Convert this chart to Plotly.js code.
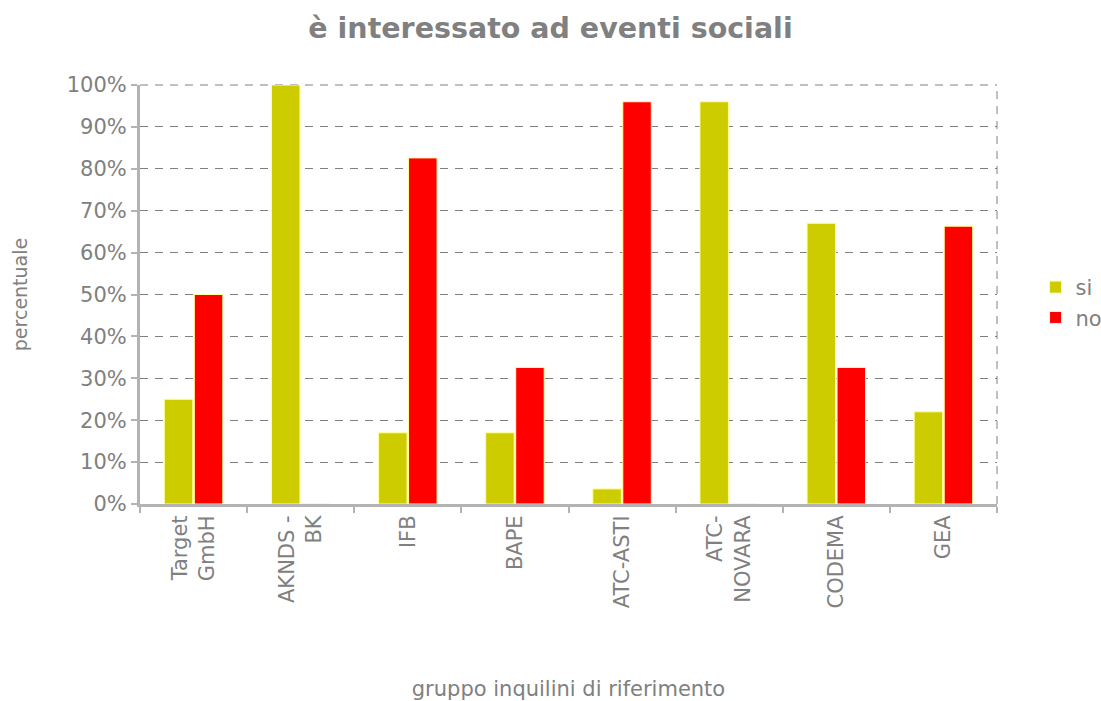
<!DOCTYPE html>
<html>
<head>
<meta charset="utf-8">
<script src="https://cdn.plot.ly/plotly-3.0.1.min.js"></script>
<style>html,body{margin:0;padding:0;background:#fff;}#chart{width:1101px;height:701px;}</style>
</head>
<body>
<div id="chart"></div>
<script>
const categories = ["Target<br>GmbH", "AKNDS -<br>BK", "IFB", "BAPE", "ATC-ASTI", "ATC-<br>NOVARA", "CODEMA", "GEA"];
const siValues = [25, 100, 17, 17, 3.6, 96, 67, 22];
const noValues = [50, 0, 82.6, 32.6, 96, 0, 32.6, 66.3];
const yTickVals = [0, 10, 20, 30, 40, 50, 60, 70, 80, 90, 100];
const yTickText = ["0%", "10%", "20%", "30%", "40%", "50%", "60%", "70%", "80%", "90%", "100%"];

const font = "DejaVu Sans, Verdana, sans-serif";
const grey = "#808080";

const traces = [
  {type: "bar", name: "si", x: categories, y: siValues,
   marker: {color: "#cccc00", line: {color: "#ffff99", width: 1}}},
  {type: "bar", name: "no", x: categories, y: noValues,
   marker: {color: "#ff0000", line: {color: "#ffff99", width: 1}}}
];

const layout = {
  width: 1101, height: 701,
  paper_bgcolor: "#fff", plot_bgcolor: "#fff",
  margin: {l: 140, r: 104, t: 85, b: 197, autoexpand: false},
  barmode: "group", bargap: 0.44, bargroupgap: 0.05,
  font: {family: font, color: grey, size: 20},
  title: {text: "<b>è interessato ad eventi sociali</b>", x: 0.5, xanchor: "center", y: 0.96, yanchor: "middle",
          font: {family: font, size: 28.5, color: grey}},
  xaxis: {
    type: "category", tickangle: -90, tickson: "boundaries",
    ticks: "outside", ticklen: 6, tickwidth: 2, tickcolor: "#b3b3b3",
    showline: true, linecolor: "#b3b3b3", linewidth: 3,
    showgrid: false, tickfont: {size: 21, color: grey},
    title: {text: "gruppo inquilini di riferimento", font: {size: 21, color: grey}, standoff: 74}
  },
  yaxis: {
    range: [0, 100], tickvals: yTickVals, ticktext: yTickText,
    ticks: "outside", ticklen: 6, tickwidth: 2, tickcolor: "#b3b3b3",
    showline: true, linecolor: "#b3b3b3", linewidth: 3,
    showgrid: true, gridcolor: "#808080", gridwidth: 1, griddash: "8px,7px",
    zeroline: false, tickfont: {size: 21, color: grey},
    title: {text: "percentuale", font: {size: 19, color: grey}, standoff: 35}
  },
  legend: {x: 1.045, y: 0.481, xanchor: "left", yanchor: "middle", font: {size: 21, color: grey},
           bgcolor: "rgba(0,0,0,0)", itemwidth: 30},
  shapes: [
    {type: "line", xref: "paper", yref: "paper", x0: 1, x1: 1, y0: 0, y1: 1, layer: "below",
     line: {color: "#808080", width: 1, dash: "8px,7px"}},
    {type: "line", xref: "paper", yref: "paper", x0: 0, x1: 1, y0: 1, y1: 1, layer: "below",
     line: {color: "#808080", width: 1, dash: "8px,7px"}}
  ]
};

Plotly.newPlot("chart", traces, layout, {displayModeBar: false, staticPlot: true});
</script>
</body>
</html>
